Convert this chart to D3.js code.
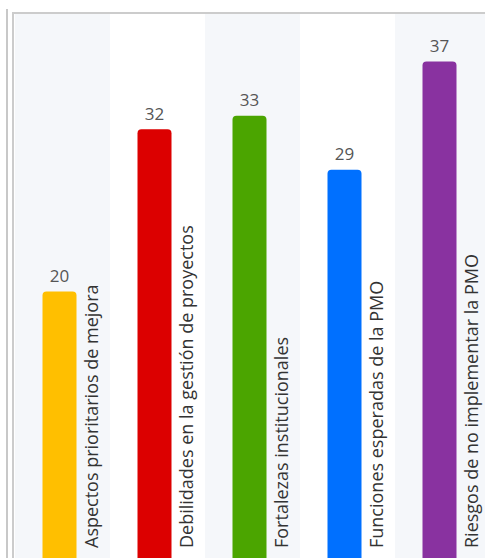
<!DOCTYPE html>
<html>
<head>
<meta charset="utf-8">
<script src="https://cdn.jsdelivr.net/npm/d3@7"></script>
<style>
  html, body { margin: 0; padding: 0; background: #fff; overflow: hidden; }
  svg { display: block; font-family: "Open Sans", "Noto Sans", sans-serif; }
</style>
</head>
<body>
<svg id="chart"></svg>
<script>
const categories = [
  'Aspectos prioritarios de mejora',
  'Debilidades en la gestión de proyectos',
  'Fortalezas institucionales',
  'Funciones esperadas de la PMO',
  'Riesgos de no implementar la PMO'
];
const values = [20, 32, 33, 29, 37];
const colors = ['#FFBF00', '#DC0000', '#4BA500', '#0070FF', '#8932A0'];

const width = 485;
const height = 558;

const svg = d3.select('#chart')
  .attr('width', width)
  .attr('height', height);

const x = d3.scaleBand()
  .domain(categories)
  .range([15, 490])
  .padding(0);

const y = d3.scaleLinear()
  .domain([0, 40])
  .range([562, 21]);

const barWidth = 34;
const barShift = -3;

// alternating band backgrounds
svg.append('g')
  .selectAll('rect')
  .data(categories)
  .join('rect')
  .attr('x', d => x(d))
  .attr('y', 13)
  .attr('width', x.bandwidth())
  .attr('height', height)
  .attr('fill', (d, i) => i % 2 === 0 ? '#f5f7fa' : '#ffffff');

// frame lines
svg.append('line')
  .attr('x1', 7).attr('x2', 7)
  .attr('y1', 9).attr('y2', height)
  .attr('stroke', '#c8c8c8').attr('stroke-width', 2);

svg.append('path')
  .attr('d', `M13,${height}V13H${width}`)
  .attr('fill', 'none')
  .attr('stroke', '#cccccc').attr('stroke-width', 2);

const bars = svg.append('g');

bars.selectAll('path')
  .data(categories)
  .join('path')
  .attr('fill', (d, i) => colors[i])
  .attr('d', (d, i) => {
    const x0 = x(d) + x.bandwidth() / 2 + barShift - barWidth / 2;
    const top = y(values[i]);
    const bottom = y(0);
    const r = 4;
    return `M${x0},${bottom}V${top + r}Q${x0},${top} ${x0 + r},${top}` +
      `H${x0 + barWidth - r}Q${x0 + barWidth},${top} ${x0 + barWidth},${top + r}` +
      `V${bottom}Z`;
  });

// value labels
svg.append('g')
  .selectAll('text')
  .data(categories)
  .join('text')
  .attr('x', d => x(d) + x.bandwidth() / 2 + barShift)
  .attr('y', (d, i) => y(values[i]) - 9.5)
  .attr('text-anchor', 'middle')
  .attr('font-size', 17)
  .attr('fill', '#555')
  .text((d, i) => values[i]);

// category labels, rotated
svg.append('g')
  .selectAll('text')
  .data(categories)
  .join('text')
  .attr('transform', d => `translate(${x(d) + x.bandwidth() / 2 + 35.5},548) rotate(-90)`)
  .attr('text-anchor', 'start')
  .attr('font-size', 18)
  .attr('fill', '#333')
  .text(d => d);
</script>
</body>
</html>
